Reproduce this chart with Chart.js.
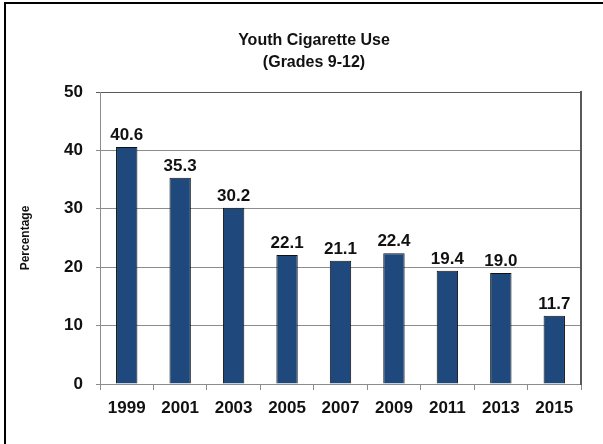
<!DOCTYPE html>
<html>
<head>
<meta charset="utf-8">
<script src="https://cdn.jsdelivr.net/npm/chart.js@4"></script>
<style>
  html, body { margin: 0; padding: 0; background: #fff; }
  #wrap { position: relative; width: 603px; height: 444px; overflow: hidden; }
  #frame { position: absolute; left: 4px; top: 2px; right: -10px; bottom: -10px;
           border-left: 2px solid #000; border-top: 2px solid #000; }
  canvas { position: absolute; left: 0; top: 0; }
</style>
</head>
<body>
<div id="wrap">
  <div id="frame"></div>
  <canvas id="youthChart" width="603" height="444"></canvas>
</div>
<script>
const years = ['1999', '2001', '2003', '2005', '2007', '2009', '2011', '2013', '2015'];
const usePct = [40.6, 35.3, 30.2, 22.1, 21.1, 22.4, 19.4, 19.0, 11.7];
const yTicks = [0, 10, 20, 30, 40, 50];
const titleLines = ['Youth Cigarette Use', '(Grades 9-12)'];

const FONT = "'Liberation Sans', Arial, sans-serif";

// ===== Title (two centred lines) =====
const titlePlugin = {
    id: 'titleLines',
    afterDraw(chart) {
        const c = chart.ctx;
        c.save();
        c.fillStyle = '#111';
        c.font = 'bold 16px ' + FONT;
        c.textAlign = 'center';
        c.textBaseline = 'middle';
        c.fillText(titleLines[0], 314, 41);
        c.fillText(titleLines[1], 314, 63);
        c.restore();
    }
};

// ===== Value labels above bars =====
const valueLabels = {
    id: 'valueLabels',
    afterDatasetsDraw(chart) {
        const c = chart.ctx;
        const meta = chart.getDatasetMeta(0);
        c.save();
        c.fillStyle = '#111';
        c.font = 'bold 17px ' + FONT;
        c.textAlign = 'center';
        c.textBaseline = 'bottom';
        meta.data.forEach((bar, i) => {
            c.fillText(usePct[i].toFixed(1), bar.x, bar.y - 3);
        });
        c.restore();
    }
};

new Chart(document.getElementById('youthChart'), {
    type: 'bar',
    data: {
        labels: years,
        datasets: [{
            data: usePct,
            backgroundColor: '#1F497D',
            borderColor: '#111',
            borderWidth: 1,
            barPercentage: 0.4,
            categoryPercentage: 1
        }]
    },
    options: {
        responsive: false,
        animation: false,
        layout: { padding: { top: 92, right: 22, left: 0, bottom: 0 } },
        plugins: { legend: { display: false }, tooltip: { enabled: false } },
        scales: {
            x: {
                afterFit(s) { s.height = 60; },
                grid: { offset: true, drawOnChartArea: false, drawTicks: true, tickLength: 6, color: '#8c8c8c' },
                border: { color: '#8c8c8c', width: 1 },
                ticks: { color: '#111', font: { family: FONT, size: 17, weight: 'bold' }, padding: 8 }
            },
            y: {
                min: 0,
                max: 50,
                afterFit(s) { s.width = 100; },
                afterBuildTicks(s) { s.ticks = yTicks.map(v => ({ value: v })); },
                grid: {
                    color: ctx => ctx.tick && ctx.tick.value === 50 ? '#595959' : '#8c8c8c',
                    tickLength: 4,
                    lineWidth: 1
                },
                border: { color: '#8c8c8c', width: 1 },
                ticks: { color: '#111', font: { family: FONT, size: 17, weight: 'bold' }, padding: 13 },
                title: {
                    display: true,
                    text: 'Percentage',
                    color: '#111',
                    font: { family: FONT, size: 12, weight: 'bold' },
                    padding: { top: 18, bottom: 0 }
                }
            },
            yRight: {
                position: 'right',
                min: 0,
                max: 50,
                afterFit(s) { s.width = 0; },
                grid: { display: false, drawTicks: false },
                ticks: { display: false },
                border: { color: '#595959', width: 2 }
            }
        }
    },
    plugins: [titlePlugin, valueLabels]
});
</script>
</body>
</html>
